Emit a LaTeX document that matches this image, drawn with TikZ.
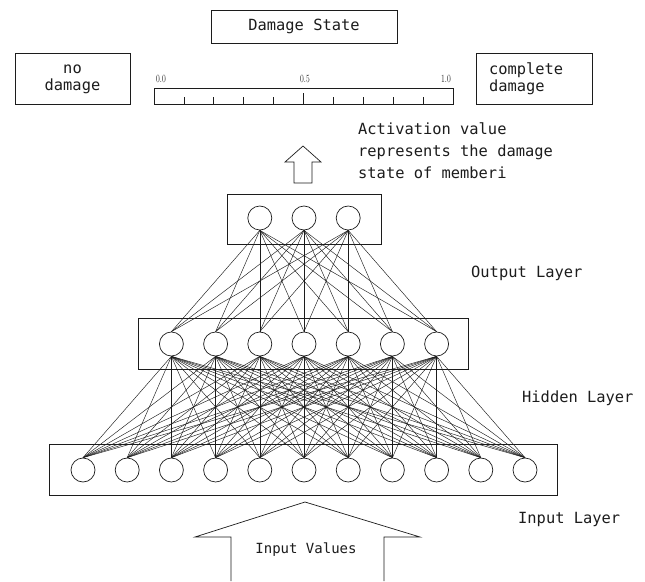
\documentclass[tikz,border=0pt]{standalone}
\usepackage{fontspec}
\setmonofont{DejaVu Sans Mono}
\usepackage{tikz}
\usetikzlibrary{calc,positioning}
\definecolor{ink}{HTML}{1C1C1C}
\definecolor{paper}{HTML}{FFFFFF}
\tikzset{
  frame/.style={draw=ink, line width=0.7pt},
  neuron/.style={circle, draw=ink, line width=0.7pt, minimum size=24pt, inner sep=0pt},
  link/.style={draw=ink, line width=0.45pt},
  lab/.style={text=ink, font=\fontsize{15.4}{17}\selectfont\ttfamily},
  labs/.style={text=ink, font=\fontsize{11}{11}\selectfont\rmfamily, inner sep=0pt},
  hollow/.style={draw=ink, line width=0.7pt, line join=miter},
}
\newcommand{\narrow}[1]{\scalebox{0.7}[1]{#1}}

\begin{document}
\begin{tikzpicture}[x=1pt, y=-1pt]
  \useasboundingbox[fill=paper] (0,0) rectangle (645,581);
  \pgfmathsetmacro{\dx}{44.2}
  % top: damage scale
  \node[frame, lab, minimum width=186pt, minimum height=33pt] (state) at (304,26.5) {Damage State};
  \node[frame, lab, align=center, minimum width=115pt, minimum height=51pt] (nodmg) at (72.5,79) {no\\damage};
  \node[frame, lab, align=left, text width=90pt, inner xsep=13pt, minimum height=51pt] (fulldmg) at (534,79) {complete\\damage};
  \draw[frame] (154,88) rectangle (453,104);
  \foreach \i in {1,...,9}
    \draw[frame] ({154+29.9*\i},104) -- ++(0,-7);
  \draw[frame] (303.5,104) -- ++(0,-11);
  \node[labs] (v0) at (161,79) {\narrow{0.0}};
  \node[labs] (v5) at (305,79) {\narrow{0.5}};
  \node[labs] (v1) at (446,79) {\narrow{1.0}};
  \node[lab, align=left, anchor=north west, inner sep=0pt, font=\fontsize{15.4}{22}\selectfont\ttfamily] (note) at (358,123) {Activation value\\represents the damage\\state of memberi};
  \draw[hollow] (294,183) -- (294,162) -- (285,162) -- (303,146) -- (321,162) -- (312,162) -- (312,183) -- cycle;
  % layer boxes
  \node[frame, minimum width=154pt, minimum height=50pt, inner sep=0pt] (outbox) at (304,219) {};
  \node[frame, minimum width=330pt, minimum height=51pt, inner sep=0pt] (hidbox) at (303,343.5) {};
  \node[frame, minimum width=508pt, minimum height=51pt, inner sep=0pt] (inbox) at (303,469.5) {};
  % neurons
  \foreach \i in {1,...,3}
    \node[neuron] (o\i) at ({304+(\i-2)*\dx},218) {};
  \foreach \i in {1,...,7}
    \node[neuron] (h\i) at ({304+(\i-4)*\dx},344) {};
  \foreach \i in {1,...,11}
    \node[neuron] (n\i) at ({304+(\i-6)*\dx},470) {};
  % weights
  \foreach \i in {1,...,3}
    \foreach \j in {1,...,7}
      \draw[link] (o\i.south) -- (h\j.north);
  \foreach \j in {1,...,7}
    \foreach \k in {1,...,11}
      \draw[link] (h\j.south) -- (n\k.north);
  % layer names
  \node[lab, anchor=west, inner sep=0pt] (outname) at (471,273) {Output Layer};
  \node[lab, anchor=west, inner sep=0pt] (hidname) at (522,398) {Hidden Layer};
  \node[lab, anchor=west, inner sep=0pt] (inname) at (518,519) {Input Layer};
  % input arrow
  \draw[hollow] (231,581) -- (231,537) -- (195,537) -- (305,502) -- (420,537) -- (384,537) -- (384,581);
  \node[lab, font=\fontsize{14}{16}\selectfont\ttfamily] (invals) at (306,550) {Input Values};
\end{tikzpicture}
\end{document}
